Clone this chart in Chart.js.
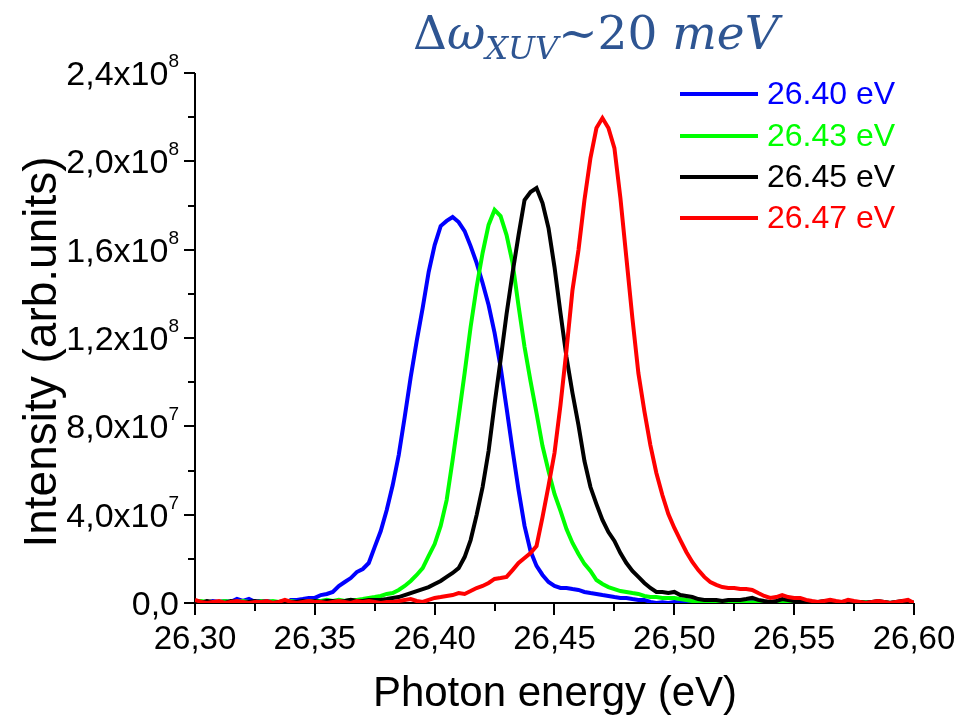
<!DOCTYPE html>
<html>
<head>
<meta charset="utf-8">
<script src="https://cdn.jsdelivr.net/npm/chart.js@4.4.1/dist/chart.umd.min.js"></script>
<style>
  html, body { margin: 0; padding: 0; background: #fff; }
  canvas { display: block; }
</style>
</head>
<body>
<canvas id="spectra" width="972" height="720"></canvas>
<script>
// photon energy grid (eV)
const energies = [
  26.3, 26.3025, 26.305, 26.3075, 26.31, 26.3125, 26.315, 26.3175, 26.32, 26.3225,
  26.325, 26.3275, 26.33, 26.3325, 26.335, 26.3375, 26.34, 26.3425, 26.345, 26.3475,
  26.35, 26.3525, 26.355, 26.3575, 26.36, 26.3625, 26.365, 26.3675, 26.37, 26.3725,
  26.375, 26.3775, 26.38, 26.3825, 26.385, 26.3875, 26.39, 26.3925, 26.395, 26.3975,
  26.4, 26.4025, 26.405, 26.4075, 26.41, 26.4125, 26.415, 26.4175, 26.42, 26.4225,
  26.425, 26.4275, 26.43, 26.4325, 26.435, 26.4375, 26.44, 26.4425, 26.445, 26.4475,
  26.45, 26.4525, 26.455, 26.4575, 26.46, 26.4625, 26.465, 26.4675, 26.47, 26.4725,
  26.475, 26.4775, 26.48, 26.4825, 26.485, 26.4875, 26.49, 26.4925, 26.495, 26.4975,
  26.5, 26.5025, 26.505, 26.5075, 26.51, 26.5125, 26.515, 26.5175, 26.52, 26.5225,
  26.525, 26.5275, 26.53, 26.5325, 26.535, 26.5375, 26.54, 26.5425, 26.545, 26.5475,
  26.55, 26.5525, 26.555, 26.5575, 26.56, 26.5625, 26.565, 26.5675, 26.57, 26.5725,
  26.575, 26.5775, 26.58, 26.5825, 26.585, 26.5875, 26.59, 26.5925, 26.595, 26.5975,
  26.6
];

// intensities, in units of 1e6 (arb.units)
const int2640 = [
  0.9, 0.5, 0, 0.9, 0.5, 0.9, 0.5, 1.8, 0.9, 1.8,
  0.5, 0.9, 0.9, 0.5, 0.5, 0, 1.4, 1.4, 1.8, 2.3,
  2.3, 3.6, 4.1, 5.0, 7.7, 9.5, 11.3, 14.0, 15.4, 18.1,
  25.4, 32.6, 42.1, 53.4, 67.0, 84.2, 102.3, 118.6, 133.6, 149.9,
  162.1, 170.7, 173.0, 174.8, 172.5, 168.4, 161.6, 154.0, 144.9, 134.9,
  122.3, 106.9, 88.3, 69.3, 51.2, 34.9, 23.5, 16.8, 12.7, 9.5,
  7.7, 6.8, 6.8, 6.3, 5.9, 5.0, 4.5, 4.1, 3.6, 3.2,
  2.7, 2.3, 2.3, 1.8, 1.4, 1.4, 0.5, 0, 0.3, 0,
  0.5, 0.2, 0, 0.4, 0, 0.3, 0.5, 0, 0.2, 0,
  0.4, 0.3, 0, 0.5, 0.2, 0, 0.3, 0, 0.4, 0.2,
  0, 0.5, 0.3, 0, 0.2, 0.4, 0, 0.3, 0, 0.5,
  0.2, 0, 0.3, 0.4, 0, 0.2, 0, 0.3, 0.5, 0,
  0.2
];
const int2643 = [
  0.5, 0.9, 0.5, 0, 0.5, 0.9, 0.5, 0.5, 0.9, 0.5,
  0, 0.9, 0.5, 0.9, 0.5, 0.5, 0.9, 0.5, 0.5, 0.9,
  0.9, 0.9, 1.4, 0.9, 1.4, 0.9, 1.4, 1.4, 1.8, 2.3,
  2.7, 3.2, 4.1, 4.5, 5.9, 7.7, 10.0, 12.7, 15.8, 21.3,
  26.7, 34.9, 46.6, 64.8, 84.2, 104.1, 125.0, 143.1, 158.5, 171.2,
  178.0, 175.2, 166.6, 154.0, 134.5, 115.9, 100.5, 86.0, 71.1, 59.8,
  49.4, 41.7, 33.5, 27.2, 22.2, 17.7, 14.5, 10.4, 8.6, 7.2,
  6.3, 5.4, 5.0, 4.5, 4.1, 3.2, 2.7, 2.7, 2.3, 2.3,
  2.3, 1.8, 1.4, 0.9, 0.5, 0.5, 0, 0.3, 0.5, 0,
  0.4, 0.5, 0, 0.3, 0, 0.5, 0.3, 0, 0.5, 0.2,
  0, 0.4, 0.5, 0, 0.3, 0, 0.5, 0.3, 0, 0.4,
  0, 0.5, 0.3, 0, 0.2, 0.5, 0, 0.3, 0.4, 0,
  0.2
];
const int2645 = [
  0.5, 0, 0.9, 0.5, 0.5, 0, 0.9, 0.5, 0, 0.5,
  0.9, 0.5, 0.5, 0, 0.5, 0.9, 0.5, 0.5, 0.9, 0.5,
  0.9, 0.5, 0.9, 0.9, 0.5, 0.9, 1.4, 0.9, 0.9, 1.4,
  1.4, 1.4, 1.8, 2.3, 2.7, 3.6, 4.5, 5.4, 6.3, 7.2,
  8.6, 10.0, 11.8, 13.6, 15.8, 20.8, 28.5, 39.8, 52.5, 68.8,
  90.1, 110.0, 130.9, 149.4, 166.6, 182.5, 186.1, 187.9, 181.1, 169.8,
  152.1, 131.3, 111.4, 95.1, 80.6, 64.3, 52.5, 44.8, 37.6, 32.1,
  28.1, 22.6, 18.1, 14.5, 11.8, 9.1, 6.8, 5.0, 5.0, 4.5,
  5.0, 3.6, 3.2, 2.7, 1.8, 1.4, 1.4, 1.4, 0.9, 1.4,
  1.4, 1.4, 1.8, 2.3, 1.4, 0.9, 0.5, 0.9, 1.8, 1.4,
  0.9, 0.5, 0.9, 0.5, 0.5, 0.9, 0.5, 0, 0.5, 0.9,
  0.5, 0.5, 0, 0.5, 0.9, 0.5, 0, 0.5, 0.9, 0.5,
  0
];
const int2647 = [
  1.4, 0.5, 0, 0.5, 0.9, 0, 0.5, 0.9, 0.5, 0,
  0.5, 0.5, 0.9, 0, 0.5, 1.4, 0.5, 0, 0.5, 0.9,
  0.5, 0.5, 0, 0.5, 0.9, 0.5, 0, 0.9, 0.5, 0.9,
  0.5, 0, 0.5, 0.5, 0.9, 1.4, 1.8, 0.9, 0.5, 1.4,
  2.3, 2.7, 3.2, 3.6, 4.5, 4.1, 5.4, 6.8, 7.7, 9.1,
  10.9, 11.3, 11.8, 14.9, 18.1, 20.4, 22.6, 25.8, 38.9, 53.0,
  67.9, 89.7, 114.6, 141.7, 159.8, 182.5, 201.5, 215.1, 219.6, 215.1,
  206.0, 183.4, 156.2, 129.0, 104.1, 86.9, 71.5, 58.9, 48.9, 40.3,
  34.0, 28.5, 23.1, 18.6, 14.9, 11.8, 9.5, 8.2, 7.2, 6.8,
  6.8, 6.3, 6.3, 5.9, 4.5, 3.2, 2.3, 2.7, 3.6, 2.7,
  2.3, 2.3, 1.4, 0.9, 0.5, 0.9, 1.4, 0.9, 0.5, 1.4,
  0.9, 0.5, 0, 0.5, 0.9, 0.5, 0, 0.5, 0.9, 1.4,
  0
];

const seriesLabels = ['26.40 eV', '26.43 eV', '26.45 eV', '26.47 eV'];
const seriesValues = [int2640, int2643, int2645, int2647];
const seriesColors = ['#0000ff', '#00ff00', '#000000', '#ff0000'];

const xTicks = [26.30, 26.35, 26.40, 26.45, 26.50, 26.55, 26.60];
const xTickLabels = ['26,30', '26,35', '26,40', '26,45', '26,50', '26,55', '26,60'];
const xMinorTicks = [26.325, 26.375, 26.425, 26.475, 26.525, 26.575];
const yTicks = [0, 4e7, 8e7, 1.2e8, 1.6e8, 2.0e8, 2.4e8];
const yTickLabels = ['0,0', '4,0x10', '8,0x10', '1,2x10', '1,6x10', '2,0x10', '2,4x10'];
const yTickExps = ['', '7', '7', '8', '8', '8', '8'];
const yMinorTicks = [2e7, 6e7, 1e8, 1.4e8, 1.8e8, 2.2e8];

const SANS = '"Liberation Sans", Arial, sans-serif';
const SERIF = '"DejaVu Serif", serif';

// axis lines and ticks go under the curves
const axesPlugin = {
  id: 'axes',
  beforeDatasetsDraw(chart) {
    const { ctx, chartArea: a, scales: { x, y } } = chart;
    ctx.save();
    ctx.strokeStyle = '#000';
    ctx.lineWidth = 2;
    ctx.beginPath();
    ctx.moveTo(a.left, a.top);
    ctx.lineTo(a.left, a.bottom);
    ctx.lineTo(a.right, a.bottom);
    ctx.stroke();
    ctx.beginPath();
    xTicks.forEach(v => { const px = Math.round(x.getPixelForValue(v)); ctx.moveTo(px, a.bottom); ctx.lineTo(px, a.bottom + 12); });
    xMinorTicks.forEach(v => { const px = Math.round(x.getPixelForValue(v)); ctx.moveTo(px, a.bottom); ctx.lineTo(px, a.bottom + 8); });
    yTicks.forEach(v => { const py = Math.round(y.getPixelForValue(v)); ctx.moveTo(a.left, py); ctx.lineTo(a.left - 11, py); });
    yMinorTicks.forEach(v => { const py = Math.round(y.getPixelForValue(v)); ctx.moveTo(a.left, py); ctx.lineTo(a.left - 7, py); });
    ctx.stroke();
    ctx.restore();
  },
  afterDraw(chart) {
    const { ctx, scales: { x, y } } = chart;
    ctx.save();
    ctx.fillStyle = '#000';

    // x tick labels
    ctx.font = '33px ' + SANS;
    ctx.textAlign = 'center';
    ctx.textBaseline = 'alphabetic';
    xTicks.forEach((v, i) => ctx.fillText(xTickLabels[i], x.getPixelForValue(v), 649));

    // y tick labels with exponent
    ctx.textAlign = 'left';
    yTicks.forEach((v, i) => {
      const py = y.getPixelForValue(v);
      ctx.font = '34px ' + SANS;
      const wm = ctx.measureText(yTickLabels[i]).width;
      ctx.font = '19px ' + SANS;
      const we = yTickExps[i] ? ctx.measureText(yTickExps[i]).width : 0;
      const left = 179 - wm - we;
      ctx.font = '34px ' + SANS;
      ctx.fillText(yTickLabels[i], left, py + 12);
      if (yTickExps[i]) {
        ctx.font = '19px ' + SANS;
        ctx.fillText(yTickExps[i], left + wm, py - 6);
      }
    });

    // axis titles
    ctx.font = '42px ' + SANS;
    ctx.textAlign = 'center';
    ctx.fillText('Photon energy (eV)', 555, 706);
    ctx.save();
    ctx.translate(56, 352);
    ctx.rotate(-Math.PI / 2);
    ctx.font = '46px ' + SANS;
    ctx.fillText('Intensity (arb.units)', 0, 0);
    ctx.restore();

    // legend
    const legendY = [94, 136, 177, 218];
    ctx.textAlign = 'left';
    ctx.textBaseline = 'middle';
    ctx.font = '32px ' + SANS;
    seriesLabels.forEach((lab, i) => {
      ctx.strokeStyle = seriesColors[i];
      ctx.lineWidth = 4;
      ctx.beginPath();
      ctx.moveTo(680, legendY[i]);
      ctx.lineTo(758, legendY[i]);
      ctx.stroke();
      ctx.fillStyle = seriesColors[i];
      ctx.fillText(lab, 767, legendY[i] + 1);
    });

    // title: Δω_XUV ~ 20 meV
    const parts = [
      { t: '\u0394', f: '47px ' + SERIF, dy: 0 },
      { t: '\u03c9', f: 'italic 47px ' + SERIF, dy: 0 },
      { t: 'XUV', f: 'italic 32px ' + SERIF, dy: 10 },
      { t: '~20 ', f: '47px ' + SERIF, dy: 0 },
      { t: 'meV', f: 'italic 47px ' + SERIF, dy: 0 }
    ];
    ctx.fillStyle = '#2e5592';
    ctx.textBaseline = 'alphabetic';
    let tx = 413;
    parts.forEach(p => {
      ctx.font = p.f;
      ctx.fillText(p.t, tx, 49 + p.dy);
      tx += ctx.measureText(p.t).width;
    });
    ctx.restore();
  }
};

const datasets = seriesValues.map((vals, i) => ({
  label: seriesLabels[i],
  data: energies.map((e, k) => ({ x: e, y: vals[k] * 1e6 })),
  borderColor: seriesColors[i],
  borderWidth: 4,
  pointRadius: 0,
  tension: 0,
  fill: false,
  order: 4 - i // red on top, blue at the bottom
}));

new Chart(document.getElementById('spectra'), {
  type: 'line',
  data: { datasets },
  options: {
    responsive: false,
    animation: false,
    layout: { padding: { top: 73, right: 58, left: 0, bottom: 0 } },
    scales: {
      x: {
        type: 'linear', min: 26.30, max: 26.60,
        ticks: { display: false },
        grid: { display: false },
        border: { display: false },
        afterFit(s) { s.height = 117; }
      },
      y: {
        min: 0, max: 2.4e8,
        ticks: { display: false },
        grid: { display: false },
        border: { display: false },
        afterFit(s) { s.width = 195; }
      }
    },
    plugins: { legend: { display: false }, tooltip: { enabled: false } }
  },
  plugins: [axesPlugin]
});
</script>
</body>
</html>
